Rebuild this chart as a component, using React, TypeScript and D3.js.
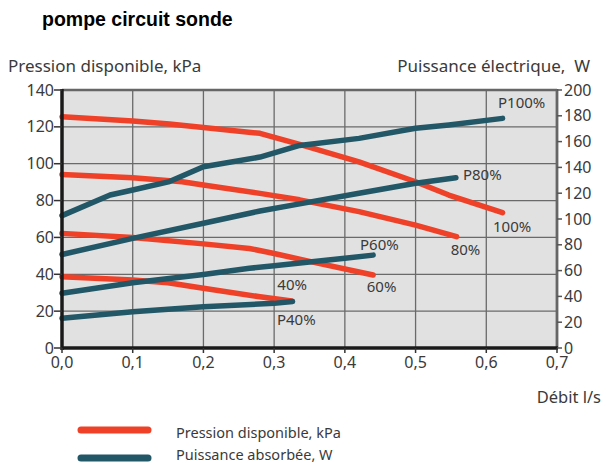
import React from "react";
import * as d3 from "d3";

const title = "pompe circuit sonde";
const leftTicks = [0, 20, 40, 60, 80, 100, 120, 140];
const rightTicks = [0, 20, 40, 60, 80, 100, 120, 140, 160, 180, 200];
const xTicks = [0, 0.1, 0.2, 0.3, 0.4, 0.5, 0.6, 0.7];

// Pression disponible (kPa), left axis
const p100Flow = [0, 0.1, 0.152, 0.2, 0.28, 0.336, 0.42, 0.5, 0.547, 0.623];
const p100Kpa = [125.5, 123.2, 121.5, 119.7, 116.5, 110.5, 101, 90.2, 83, 73.4];
const p80Flow = [0, 0.1, 0.17, 0.2, 0.28, 0.336, 0.42, 0.5, 0.558];
const p80Kpa = [94.2, 92.4, 90.2, 88.4, 83.9, 80.4, 74, 66.7, 60.4];
const p60Flow = [0, 0.1, 0.2, 0.265, 0.3, 0.35, 0.44];
const p60Kpa = [62.2, 60, 56.5, 54, 51.3, 47, 39.6];
const p40Flow = [0, 0.1, 0.15, 0.2, 0.28, 0.325];
const p40Kpa = [38.7, 36.9, 35.4, 32.4, 27.8, 25.5];

// Puissance absorbée (W), right axis
const w100Flow = [0, 0.068, 0.1, 0.152, 0.2, 0.28, 0.336, 0.42, 0.5, 0.547, 0.623];
const w100W = [102.6, 118.6, 122.5, 129, 140.5, 148, 157, 162.5, 170.3, 172.9, 178];
const w80Flow = [0, 0.1, 0.2, 0.28, 0.336, 0.42, 0.5, 0.557];
const w80W = [72.5, 85, 96.7, 106.2, 111.7, 120, 127.7, 132];
const w60Flow = [0, 0.1, 0.2, 0.265, 0.3, 0.4, 0.44];
const w60W = [42.4, 50.6, 57, 61.8, 63.7, 69.5, 72];
const w40Flow = [0, 0.1, 0.2, 0.3, 0.326];
const w40W = [23, 28.1, 32, 34.6, 36];

const pressureLabels = ["100%", "80%", "60%", "40%"];
const powerLabels = ["P100%", "P80%", "P60%", "P40%"];
const legendLabels = ["Pression disponible, kPa", "Puissance absorbée, W"];

const RED = "#ee4128";
const BLUE = "#225768";
const TXT = "#3a3a3a";
const FONT = "'Noto Sans', 'Open Sans', sans-serif";

export default function App() {
  const W = 606, H = 463;
  const x = d3.scaleLinear().domain([0, 0.7]).range([62, 557]);
  const yL = d3.scaleLinear().domain([0, 140]).range([348, 90]);
  const yR = d3.scaleLinear().domain([0, 200]).range([348, 90]);

  const lineL = (fl: number[], v: number[]) =>
    d3.line<number>().x((_, i) => x(fl[i])).y((d) => yL(d))(v) || "";
  const lineR = (fl: number[], v: number[]) =>
    d3.line<number>().x((_, i) => x(fl[i])).y((d) => yR(d))(v) || "";

  const pressures = [
    [p100Flow, p100Kpa],
    [p80Flow, p80Kpa],
    [p60Flow, p60Kpa],
    [p40Flow, p40Kpa],
  ];
  const powers = [
    [w100Flow, w100W],
    [w80Flow, w80W],
    [w60Flow, w60W],
    [w40Flow, w40W],
  ];

  // label anchors (data coordinates, text starts here)
  const pLabelPos = [
    { fl: 0.6095, v: 63.1 },
    { fl: 0.5497, v: 50.5 },
    { fl: 0.431, v: 30.5 },
    { fl: 0.3045, v: 31.5 },
  ];
  const wLabelPos = [
    { fl: 0.6166, v: 186 },
    { fl: 0.567, v: 130.2 },
    { fl: 0.4214, v: 76 },
    { fl: 0.304, v: 17.8 },
  ];

  return (
    <svg
      width={W}
      height={H}
      style={{ position: "absolute", left: 0, top: 0, background: "#fff" }}
      fontFamily={FONT}
    >
      <text x={42} y={26} fontFamily="'Liberation Sans', Arial, sans-serif" fontWeight="bold" fontSize={19.5} fill="#000">
        {title}
      </text>
      <text x={8} y={72} fontSize={17} fill={TXT}>Pression disponible, kPa</text>
      <text x={590} y={72} fontSize={17} fill={TXT} textAnchor="end">{"Puissance électrique,\u00a0 W"}</text>

      {/* plot background */}
      <rect x={x(0)} y={yL(140)} width={x(0.7) - x(0)} height={yL(0) - yL(140)} fill="#e1e1e1" />

      {/* grid */}
      {xTicks.slice(1, -1).map((t) => (
        <line key={"gx" + t} x1={x(t)} x2={x(t)} y1={yL(140)} y2={yL(0)} stroke="#6a6a6a" strokeWidth={1.3} />
      ))}
      {leftTicks.slice(1, -1).map((t) => (
        <line key={"gy" + t} x1={x(0)} x2={x(0.7)} y1={yL(t)} y2={yL(t)} stroke="#6a6a6a" strokeWidth={1.3} />
      ))}

      {/* top & right border */}
      <line x1={x(0)} x2={x(0.7)} y1={yL(140)} y2={yL(140)} stroke="#666" strokeWidth={2.5} />
      <line x1={x(0.7)} x2={x(0.7)} y1={yL(140) - 1} y2={yL(0)} stroke="#666" strokeWidth={2.8} />

      {/* pressure curves */}
      {pressures.map(([fl, v], i) => (
        <path key={"p" + i} d={lineL(fl, v)} fill="none" stroke={RED} strokeWidth={5.5} strokeLinecap="round" strokeLinejoin="round" />
      ))}
      {/* power curves */}
      {powers.map(([fl, v], i) => (
        <path key={"w" + i} d={lineR(fl, v)} fill="none" stroke={BLUE} strokeWidth={5.5} strokeLinecap="round" strokeLinejoin="round" />
      ))}

      {/* left & bottom axes */}
      <line x1={x(0)} x2={x(0)} y1={yL(140) - 1} y2={yL(0) + 2} stroke="#1a1a1a" strokeWidth={3.5} />
      <line x1={x(0) - 1} x2={x(0.7) + 1} y1={yL(0)} y2={yL(0)} stroke="#1a1a1a" strokeWidth={3.5} />

      {/* left ticks */}
      {leftTicks.map((t) => (
        <g key={"lt" + t}>
          <line x1={x(0) - 8} x2={x(0)} y1={yL(t)} y2={yL(t)} stroke="#333" strokeWidth={1.5} />
          <text x={x(0) - 8} y={yL(t) + 5.5} fontSize={16} fill={TXT} textAnchor="end">{t}</text>
        </g>
      ))}
      {/* right ticks */}
      {rightTicks.map((t) => (
        <g key={"rt" + t}>
          <line x1={x(0.7)} x2={x(0.7) + 5} y1={yR(t)} y2={yR(t)} stroke="#555" strokeWidth={1.5} />
          <text x={x(0.7) + 7} y={yR(t) + 5.5} fontSize={16} fill={TXT}>{t}</text>
        </g>
      ))}
      {/* x ticks */}
      {xTicks.map((t) => (
        <g key={"xt" + t}>
          <line x1={x(t)} x2={x(t)} y1={yL(0)} y2={yL(0) + 5} stroke="#333" strokeWidth={1.5} />
          <text x={x(t)} y={368} fontSize={16} fill={TXT} textAnchor="middle">
            {d3.format(".1f")(t).replace(".", ",")}
          </text>
        </g>
      ))}
      <text x={601} y={403} fontSize={16.5} fill={TXT} textAnchor="end">Débit l/s</text>

      {/* curve labels */}
      {pressureLabels.map((s, i) => (
        <text key={"pl" + i} x={x(pLabelPos[i].fl)} y={yL(pLabelPos[i].v)} fontSize={15} fill={TXT}>{s}</text>
      ))}
      {powerLabels.map((s, i) => (
        <text key={"wl" + i} x={x(wLabelPos[i].fl)} y={yR(wLabelPos[i].v)} fontSize={15} fill={TXT}>{s}</text>
      ))}

      {/* legend */}
      <line x1={81} x2={148} y1={430} y2={430} stroke={RED} strokeWidth={7} strokeLinecap="round" />
      <line x1={81} x2={148} y1={458} y2={458} stroke={BLUE} strokeWidth={7} strokeLinecap="round" />
      <text x={176} y={438} fontSize={14.5} fill={TXT}>{legendLabels[0]}</text>
      <text x={176} y={460} fontSize={14.5} fill={TXT}>{legendLabels[1]}</text>
    </svg>
  );
}
